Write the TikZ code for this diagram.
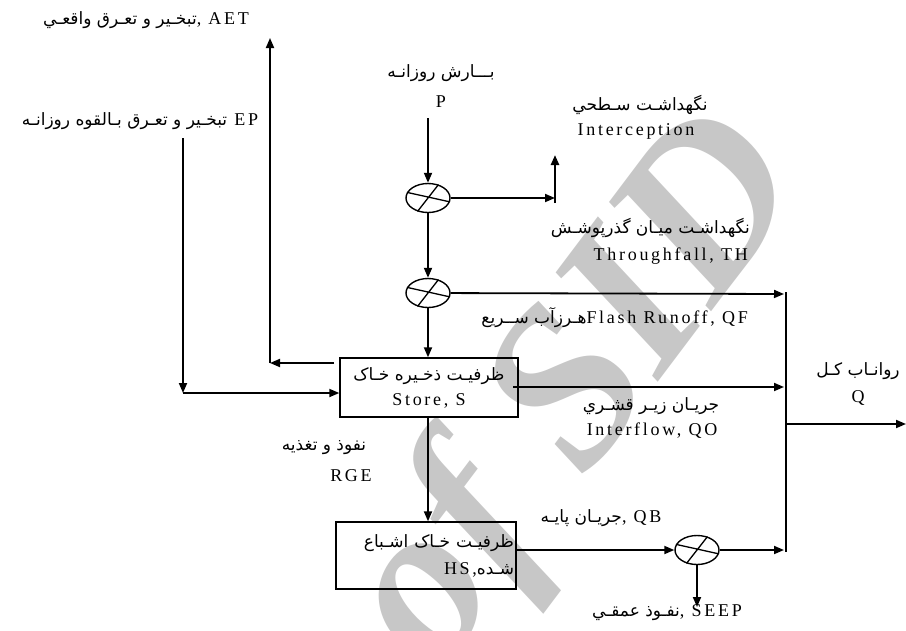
\documentclass[tikz,border=0pt]{standalone}
\usepackage{fontspec}
\usetikzlibrary{arrows.meta,shapes.geometric}
\TeXXeTstate=1
\newfontfamily\lat{Liberation Serif}[LetterSpace=15]
\newfontfamily\ar[Script=Arabic]{DejaVu Sans}
\newfontfamily\wmfont{Liberation Serif}
\newcommand\artxt[1]{{\ar\fontsize{17}{20}\selectfont\beginR #1\endR}}
\begin{document}
\begin{tikzpicture}[x=1pt,y=-1pt]
\tikzset{
  lbl/.style={inner sep=0pt, font=\lat\fontsize{18}{22}\selectfont},
  flow/.style={line width=1.8pt, -{Triangle[length=10pt,width=8pt]}},
  sumc/.style={ellipse, draw, line width=1.4pt, minimum width=44pt, minimum height=29pt, inner sep=0pt},
  sbox/.style={draw, line width=1.4pt, inner sep=2pt, font=\lat\fontsize{18}{22}\selectfont},
}
\useasboundingbox (0,0) rectangle (906,630);
\begin{scope}
\clip (0,0) rectangle (906,630);
\node[rotate=53, text=black!22, inner sep=0pt, font=\wmfont\bfseries\itshape\fontsize{225}{225}\selectfont] (wm) at (580,395) {of SID};
\end{scope}

% labels
\node[lbl] (aet) at (146,20) {\artxt{تبخـير و تعـرق واقعـي}, AET};
\node[lbl] (ep) at (140,121) {\artxt{تبخـير و تعـرق بـالقوه روزانـه} EP};
\node[lbl] (pa) at (441,73) {\artxt{بـــارش روزانـه}};
\node[lbl] (pl) at (441,102) {P};
\node[lbl] (ia) at (640,105) {\artxt{نگهداشـت سـطحي}};
\node[lbl] (il) at (636,131) {Interception};
\node[lbl, anchor=east] (ta) at (750,228) {\artxt{نگهداشـت ميـان گذرپوشـش}};
\node[lbl, anchor=east] (tl) at (748,256) {Throughfall, TH};
\node[lbl, anchor=east] (fl) at (748,318) {\artxt{هـرزآب ســريع}Flash Runoff, QF};
\node[lbl] (xa) at (651,406) {\artxt{جريـان زيـر قشـري}};
\node[lbl] (xl) at (652,431) {Interflow, QO};
\node[lbl] (qa) at (858,371) {\artxt{روانـاب کـل}};
\node[lbl] (ql) at (858,398) {Q};
\node[lbl] (ra) at (324,448) {\artxt{نفوذ و تغذيه}};
\node[lbl] (rl) at (351,476) {RGE};
\node[lbl] (qb) at (601,518) {\artxt{جريـان پايـه}, QB};
\node[lbl] (seep) at (667,613) {\artxt{نفـوذ عمقـي}, SEEP};

% summing junctions
\node[sumc] (c1) at (428,198) {};
\node[sumc] (c2) at (428,293) {};
\node[sumc] (c3) at (697,550) {};
\foreach \c in {c1,c2,c3}
  \draw[line width=1.3pt] (\c.165) -- (\c.-10) (\c.52) -- (\c.232);

% boxes
\node[sbox, minimum width=178pt, minimum height=59pt, align=center] (store) at (429,387.5)
  {\artxt{ظرفيـت ذخـيره خـاک}\\[3pt]Store, S};
\node[sbox, minimum height=67pt, text width=176pt, align=right] (hs) at (426,555.5)
  {\artxt{ظرفيـت خـاک اشـباع}\\[5pt]HS,\artxt{شـده}};

% coordinates
\coordinate (p0) at (428,118);
\coordinate (i1) at (555,198);
\coordinate (i0) at (555,203);
\coordinate (i2) at (555,155);
\coordinate (e1) at (183,138);
\coordinate (e2) at (183,393);
\coordinate (a1) at (270,38);
\coordinate (a2) at (270,363);
\coordinate (a3) at (334,363);
\coordinate (bt) at (786,292);
\coordinate (bb) at (786,552);
\coordinate (f1) at (784,294);
\coordinate (x0) at (513,387);
\coordinate (x1) at (784,387);
\coordinate (b1) at (784,550);
\coordinate (o0) at (786,424);
\coordinate (o1) at (906,424);
\coordinate (s1) at (697,607);

% connectors
\draw[flow] (p0) -- (c1);
\draw[flow] (c1) -- (i1);
\draw[flow, line width=2.4pt] (i0) -- (i2);
\draw[flow] (c1) -- (c2);
\draw[flow] (c2) -- (f1);
\draw[flow] (c2) -- (c2 |- store.north);
\draw[flow] (a3) -- (a2);
\draw[flow] (a2) -- (a1);
\draw[flow] (e1) -- (e2);
\draw[flow] (e2) -- (e2 -| store.west);
\draw[flow] (x0) -- (x1);
\draw[flow] (c2 |- store.south) -- (c2 |- hs.north);
\draw[flow] (hs.east |- c3) -- (c3);
\draw[flow] (c3) -- (b1);
\draw[flow] (c3) -- (s1);
\draw[flow] (o0) -- (o1);
\draw[line width=1.8pt] (bt) -- (bb);
\end{tikzpicture}
\end{document}
